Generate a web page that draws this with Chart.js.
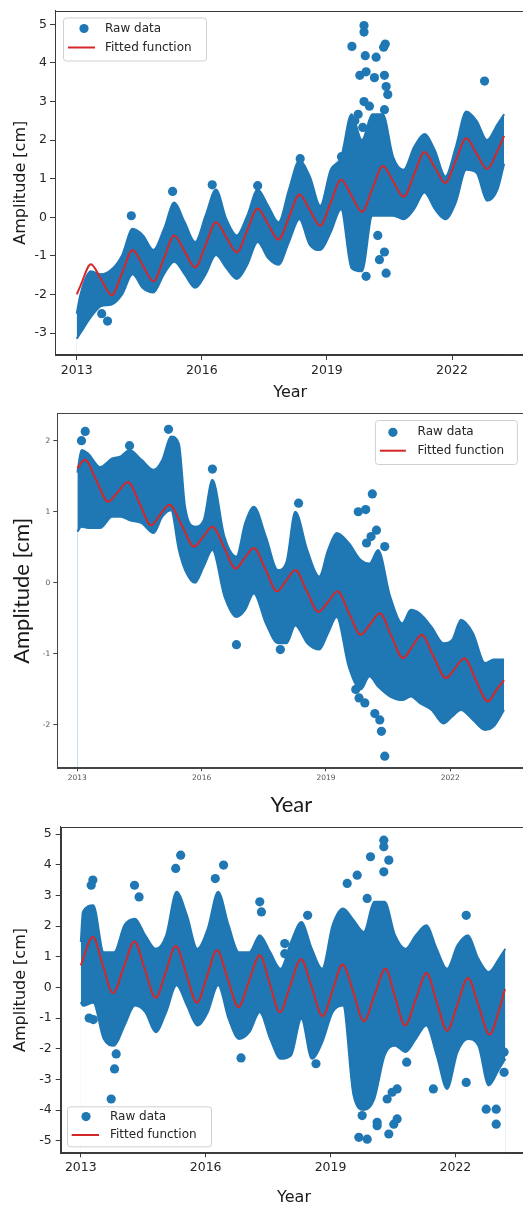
<!DOCTYPE html>
<html>
<head>
<meta charset="utf-8">
<script src="https://cdn.jsdelivr.net/npm/chart.js@4/dist/chart.umd.min.js"></script>
<style>
html,body{margin:0;padding:0;background:#fff;width:523px;height:1209px;overflow:hidden;position:relative}
.box{position:absolute;left:0}
canvas{display:block}
</style>
</head>
<body>
<div class="box" style="top:0px"><canvas id="c1" width="530" height="405"></canvas></div>
<div class="box" style="top:405px"><canvas id="c2" width="530" height="415"></canvas></div>
<div class="box" style="top:815px"><canvas id="c3" width="532" height="394"></canvas></div>
<script>
// ---------- shared ----------
const xTicks = [2013, 2016, 2019, 2022];
const seriesNames = ['Raw data', 'Fitted function'];

// ---------- chart 1 ----------
const yTicks1 = [-3, -2, -1, 0, 1, 2, 3, 4, 5];
const bandX1 = [2013.0, 2013.09, 2013.34, 2013.59, 2013.84, 2014.09, 2014.34, 2014.59, 2014.84, 2015.09, 2015.34, 2015.59, 2015.84, 2016.09, 2016.34, 2016.59, 2016.84, 2017.09, 2017.34, 2017.59, 2017.84, 2018.09, 2018.34, 2018.59, 2018.84, 2019.09, 2019.34, 2019.59, 2019.84, 2020.09, 2020.34, 2020.59, 2020.84, 2021.09, 2021.34, 2021.59, 2021.84, 2022.09, 2022.34, 2022.59, 2022.84, 2023.09, 2023.25];
const bandTop1 = [-2.5, -2.0, -1.4, -1.48, -1.35, -0.98, -0.3, -0.47, -0.85, -0.31, 0.38, -0.13, -0.64, 0.04, 0.72, -0.05, -0.47, 0.04, 0.72, 0.3, -0.13, 0.72, 1.47, 1.06, 0.3, 1.23, 1.56, 2.67, 2.0, 2.67, 2.67, 1.56, 1.23, 1.82, 2.16, 1.73, 1.06, 1.82, 2.74, 2.5, 2.0, 2.41, 2.67];
const bandLow1 = [-3.15, -3.0, -2.59, -2.3, -2.26, -2.0, -1.48, -1.84, -1.95, -1.48, -1.15, -1.48, -1.83, -1.48, -0.98, -1.32, -1.6, -1.23, -0.64, -1.06, -1.23, -0.64, -0.05, -0.72, -0.85, -0.39, 0.21, -1.32, -1.4, 0.04, 0.04, 0.04, -0.05, 0.21, 0.64, 0.21, -0.05, 0.38, 1.23, 1.15, 0.43, 0.72, 1.39];
const outX1 = [2013.6, 2013.74, 2014.31, 2015.3, 2016.25, 2017.34, 2018.36, 2019.35, 2019.60, 2019.89, 2019.89, 2019.92, 2020.18, 2020.40, 2020.36, 2019.79, 2019.94, 2020.14, 2020.38, 2020.42, 2020.46, 2019.89, 2020.02, 2020.38, 2019.67, 2019.75, 2019.86, 2019.94, 2020.22, 2020.38, 2020.42, 2019.94, 2020.26, 2022.78];
const outY1 = [-2.5, -2.69, 0.04, 0.67, 0.84, 0.82, 1.52, 1.57, 4.43, 4.97, 4.8, 4.19, 4.15, 4.49, 4.41, 3.68, 3.77, 3.62, 3.68, 3.39, 3.18, 3.0, 2.88, 2.79, 2.5, 2.67, 2.33, 1.73, -0.47, -0.9, -1.45, -1.53, -1.1, 3.53];
const fitX1 = [2013.0, 2013.09, 2013.34, 2013.59, 2013.84, 2014.09, 2014.34, 2014.59, 2014.84, 2015.09, 2015.34, 2015.59, 2015.84, 2016.09, 2016.34, 2016.59, 2016.84, 2017.09, 2017.34, 2017.59, 2017.84, 2018.09, 2018.34, 2018.59, 2018.84, 2019.09, 2019.34, 2019.59, 2019.84, 2020.09, 2020.34, 2020.59, 2020.84, 2021.09, 2021.34, 2021.59, 2021.84, 2022.09, 2022.34, 2022.59, 2022.84, 2023.09, 2023.25];
const fitY1 = [-2.0, -1.78, -1.22, -1.62, -2.02, -1.44, -0.85, -1.26, -1.66, -1.07, -0.47, -0.89, -1.3, -0.72, -0.13, -0.52, -0.91, -0.34, 0.23, -0.18, -0.58, 0.0, 0.59, 0.19, -0.22, 0.38, 0.97, 0.56, 0.14, 0.74, 1.33, 0.93, 0.53, 1.11, 1.69, 1.29, 0.89, 1.47, 2.05, 1.65, 1.25, 1.72, 2.11];

// ---------- chart 2 ----------
const yTicks2 = [-2, -1, 0, 1, 2];
const bandX2 = [2013.0, 2013.1, 2013.26, 2013.55, 2013.84, 2014.05, 2014.26, 2014.55, 2014.84, 2015.05, 2015.26, 2015.45, 2015.6, 2015.84, 2016.05, 2016.26, 2016.55, 2016.84, 2017.05, 2017.26, 2017.55, 2017.84, 2018.05, 2018.26, 2018.55, 2018.84, 2019.05, 2019.26, 2019.55, 2019.84, 2020.05, 2020.26, 2020.55, 2020.84, 2021.05, 2021.26, 2021.55, 2021.84, 2022.05, 2022.26, 2022.55, 2022.84, 2023.05, 2023.3];
const bandTop2 = [1.55, 1.87, 1.82, 1.63, 1.75, 1.78, 1.87, 1.73, 1.59, 1.73, 2.06, 1.96, 1.07, 0.79, 0.88, 1.45, 0.65, 0.37, 0.84, 1.07, 0.65, 0.18, 0.3, 1.0, 0.46, 0.09, 0.46, 0.7, 0.56, 0.32, 0.27, 0.46, -0.19, -0.57, -0.38, -0.43, -0.62, -0.85, -0.8, -0.52, -0.71, -1.13, -1.08, -1.08];
const bandLow2 = [0.72, 0.79, 0.77, 0.77, 0.93, 0.93, 0.88, 0.84, 0.7, 0.93, 1.02, 0.46, 0.18, 0.0, 0.23, 0.46, -0.19, -0.48, -0.38, -0.15, -0.57, -0.85, -0.85, -0.6, -0.85, -0.94, -0.71, -0.48, -1.18, -1.5, -1.32, -1.46, -1.6, -1.65, -1.6, -1.69, -1.79, -1.98, -1.88, -1.79, -1.93, -2.07, -2.02, -1.79];
const outX2 = [2013.1, 2013.19, 2014.26, 2015.2, 2016.26, 2016.84, 2017.9, 2018.34, 2019.78, 2019.96, 2020.12, 2020.42, 2020.34, 2020.3, 2020.18, 2019.72, 2019.8, 2019.94, 2020.09, 2020.22, 2019.98, 2020.42];
const outY2 = [2.0, 2.13, 1.93, 2.16, 1.6, -0.87, -0.94, 1.12, 1.0, 1.03, 1.25, -2.44, -2.09, -1.93, -1.84, -1.5, -1.62, -1.69, 0.65, 0.74, 0.56, 0.51];
const fitX2 = [2013.0, 2013.18, 2013.46, 2013.74, 2013.98, 2014.22, 2014.5, 2014.78, 2015.0, 2015.22, 2015.52, 2015.82, 2016.04, 2016.26, 2016.54, 2016.82, 2017.04, 2017.26, 2017.54, 2017.82, 2018.04, 2018.26, 2018.54, 2018.82, 2019.05, 2019.28, 2019.56, 2019.84, 2020.07, 2020.3, 2020.58, 2020.86, 2021.08, 2021.31, 2021.6, 2021.9, 2022.12, 2022.34, 2022.62, 2022.91, 2023.1, 2023.3];
const fitY2 = [1.61, 1.73, 1.44, 1.14, 1.28, 1.42, 1.12, 0.81, 0.96, 1.10, 0.81, 0.51, 0.65, 0.79, 0.5, 0.2, 0.35, 0.49, 0.19, -0.12, 0.03, 0.18, -0.12, -0.41, -0.27, -0.12, -0.43, -0.73, -0.58, -0.43, -0.75, -1.06, -0.9, -0.73, -1.04, -1.34, -1.2, -1.06, -1.37, -1.67, -1.52, -1.37];

// ---------- chart 3 ----------
const yTicks3 = [-5, -4, -3, -2, -1, 0, 1, 2, 3, 4, 5];
const bandX3 = [2013.0, 2013.05, 2013.3, 2013.55, 2013.8, 2014.05, 2014.3, 2014.55, 2014.8, 2015.05, 2015.3, 2015.55, 2015.8, 2016.05, 2016.3, 2016.55, 2016.8, 2017.05, 2017.3, 2017.55, 2017.8, 2018.05, 2018.3, 2018.55, 2018.8, 2019.05, 2019.3, 2019.55, 2019.8, 2020.05, 2020.3, 2020.55, 2020.8, 2021.05, 2021.3, 2021.55, 2021.8, 2022.05, 2022.3, 2022.55, 2022.8, 2023.05, 2023.2];
const bandTop3 = [1.48, 2.46, 2.68, 1.15, 1.15, 2.03, 2.24, 1.7, 1.26, 1.7, 3.12, 2.35, 1.26, 1.92, 3.12, 2.03, 1.15, 1.15, 1.7, 1.15, 0.61, 1.48, 2.13, 1.26, 0.61, 2.03, 2.57, 2.2, 1.81, 2.79, 2.79, 1.7, 1.26, 1.7, 2.03, 1.26, 0.61, 1.37, 1.7, 0.94, 0.5, 0.94, 1.26];
const bandLow3 = [-0.48, -0.6, -0.5, -1.68, -1.9, -1.24, -0.59, -0.81, -1.46, -0.81, 0.07, -0.59, -1.24, -0.81, 0.07, -1.02, -1.68, -1.46, -0.81, -1.68, -2.33, -2.22, -1.02, -2.33, -1.79, -0.81, -0.59, -3.5, -4.0, -3.64, -2.22, -1.9, -2.11, -1.68, -1.24, -2.22, -3.31, -2.11, -1.68, -1.9, -3.2, -2.66, -2.33];
const outX3 = [2013.73, 2013.81, 2013.85, 2013.29, 2013.25, 2014.29, 2014.4, 2015.4, 2015.28, 2016.23, 2016.43, 2017.3, 2017.34, 2017.9, 2017.9, 2018.45, 2018.65, 2019.4, 2019.64, 2019.88, 2019.96, 2020.28, 2020.28, 2020.4, 2020.28, 2019.68, 2019.88, 2019.76, 2020.12, 2020.4, 2020.52, 2020.6, 2020.83, 2021.47, 2022.26, 2022.74, 2022.98, 2022.98, 2023.17, 2023.17, 2022.26, 2013.2, 2013.3, 2016.85, 2020.36, 2020.48, 2020.12, 2020.6];
const outY3 = [-3.64, -2.66, -2.17, 3.5, 3.33, 3.33, 2.95, 4.31, 3.88, 3.55, 3.99, 2.79, 2.46, 1.43, 1.1, 2.35, -2.49, 3.39, 3.66, 2.9, 4.26, 4.8, 4.59, 4.15, 3.77, -4.89, -4.95, -4.18, -4.51, -4.78, -4.46, -3.31, -2.44, -3.31, -3.1, -3.97, -3.97, -4.46, -2.77, -2.11, 2.35, -1.0, -1.05, -2.3, -3.64, -3.42, -4.4, -4.29];
const fitX3 = [2013.0, 2013.29, 2013.53, 2013.77, 2014.03, 2014.29, 2014.54, 2014.8, 2015.04, 2015.28, 2015.54, 2015.79, 2016.03, 2016.27, 2016.53, 2016.79, 2017.04, 2017.3, 2017.54, 2017.78, 2018.03, 2018.29, 2018.55, 2018.81, 2019.05, 2019.29, 2019.55, 2019.8, 2020.06, 2020.32, 2020.55, 2020.79, 2021.05, 2021.31, 2021.55, 2021.8, 2022.05, 2022.3, 2022.56, 2022.82, 2023.06, 2023.19];
const fitY3 = [0.72, 1.64, 0.72, -0.19, 0.65, 1.5, 0.58, -0.34, 0.5, 1.35, 0.42, -0.5, 0.35, 1.21, 0.28, -0.64, 0.2, 1.05, 0.12, -0.81, 0.05, 0.92, -0.01, -0.94, -0.1, 0.75, -0.17, -1.1, -0.24, 0.61, -0.31, -1.24, -0.38, 0.47, -0.47, -1.41, -0.55, 0.31, -0.61, -1.54, -0.69, -0.05];

// ---------- rendering ----------
const BLUE = '#1f77b4';
const RED = '#d62728';

function pts(xs, ys) { return xs.map((x, i) => ({ x: x, y: ys[i] })); }

const framePlugin = {
  id: 'frame',
  afterDatasetsDraw(chart, args, o) {
    const { ctx, chartArea: a } = chart;
    ctx.save();
    ctx.strokeStyle = o.color || '#333';
    ctx.lineWidth = o.width || 1;
    const l = Math.round(a.left) + 0.5, t = Math.round(a.top) + 0.5;
    const r = Math.round(a.right) - 0.5, b = Math.round(a.bottom) - 0.5;
    ctx.strokeRect(l, t, r - l, b - t);
    ctx.restore();
  }
};

const legendPlugin = {
  id: 'innerLegend',
  afterDraw(chart, args, o) {
    const { ctx, chartArea: a } = chart;
    const x = o.anchor === 'tr' ? a.right - o.dx - o.w : a.left + o.dx;
    const y = o.anchor === 'bl' ? a.bottom - o.dy - o.h : a.top + o.dy;
    ctx.save();
    ctx.beginPath();
    if (ctx.roundRect) ctx.roundRect(x + 0.5, y + 0.5, o.w, o.h, 3); else ctx.rect(x + 0.5, y + 0.5, o.w, o.h);
    ctx.fillStyle = 'rgba(255,255,255,0.8)';
    ctx.fill();
    ctx.strokeStyle = '#d0d0d0';
    ctx.lineWidth = 1;
    ctx.stroke();
    const ds = chart.data.datasets;
    ctx.beginPath();
    ctx.arc(x + o.mx, y + o.y1, 4.6, 0, Math.PI * 2);
    ctx.fillStyle = BLUE;
    ctx.fill();
    ctx.beginPath();
    ctx.moveTo(x + o.l0, y + o.y2);
    ctx.lineTo(x + o.l1, y + o.y2);
    ctx.strokeStyle = RED;
    ctx.lineWidth = 2;
    ctx.stroke();
    ctx.fillStyle = '#262626';
    ctx.font = o.font;
    ctx.textBaseline = 'middle';
    ctx.textAlign = 'left';
    ctx.fillText(ds[1].label, x + o.tx, y + o.y1);
    ctx.fillText(ds[0].label, x + o.tx, y + o.y2);
    ctx.restore();
  }
};

function build(id, o) {
  const edge = { borderColor: BLUE, borderWidth: 2, pointRadius: 0, cubicInterpolationMode: 'monotone' };
  return new Chart(document.getElementById(id), {
    type: 'line',
    data: {
      datasets: [
        { label: seriesNames[1], data: pts(o.fitX, o.fitY), borderColor: RED, borderWidth: 2,
          pointRadius: 0, cubicInterpolationMode: 'monotone', fill: false },
        { label: seriesNames[0], data: pts(o.outX, o.outY), showLine: false, pointRadius: 4.6,
          pointBackgroundColor: BLUE, pointBorderWidth: 0, borderColor: BLUE, fill: false },
        // lower edge of the dense cloud: clears the area beneath it
        Object.assign({ label: seriesNames[0] + ' (lower edge)', data: pts(o.bandX, o.bandLow),
          backgroundColor: '#ffffff', fill: 'start' }, edge),
        // upper edge of the dense cloud: filled down to the axis first
        Object.assign({ label: seriesNames[0] + ' (upper edge)', data: pts(o.bandX, o.bandTop),
          backgroundColor: BLUE, fill: 'start' }, edge)
      ]
    },
    plugins: [framePlugin, legendPlugin],
    options: {
      responsive: false,
      animation: false,
      events: [],
      layout: { padding: { top: o.padTop, right: o.padRight, left: 0, bottom: 0 } },
      plugins: {
        legend: { display: false },
        tooltip: { enabled: false },
        frame: { color: o.frameColor, width: 1 },
        innerLegend: o.legend
      },
      scales: {
        x: {
          type: 'linear', min: o.xMin, max: o.xMax,
          afterFit: s => { s.height = o.xAxisH; },
          afterBuildTicks: s => { s.ticks = xTicks.map(v => ({ value: v })); },
          ticks: { callback: v => String(v), font: o.tickFont, color: o.tickColor,
                   padding: o.xTickPad, maxRotation: 0, autoSkip: false },
          grid: { drawOnChartArea: false, drawTicks: true, tickLength: o.xTickLen, color: o.frameColor },
          border: { display: true, color: o.frameColor, width: 1 },
          title: { display: true, text: 'Year', font: o.titleFont, color: '#1a1a1a',
                   padding: { top: 0, bottom: o.xTitlePad } }
        },
        y: {
          type: 'linear', min: o.yMin, max: o.yMax,
          afterFit: s => { s.width = o.yAxisW; },
          afterBuildTicks: s => { s.ticks = o.yTicks.map(v => ({ value: v })); },
          ticks: { callback: v => String(v), font: o.tickFont, color: o.tickColor,
                   padding: o.yTickPad, autoSkip: false },
          grid: { drawOnChartArea: false, drawTicks: true, tickLength: o.yTickLen, color: o.frameColor },
          border: { display: true, color: o.frameColor, width: 1 },
          title: { display: true, text: 'Amplitude [cm]', font: o.titleFont, color: '#1a1a1a',
                   padding: { top: o.yTitlePad, bottom: 0 } }
        }
      }
    }
  });
}

const dejaTick = { family: 'DejaVu Sans', size: 12.5 };
const dejaTitle = { family: 'DejaVu Sans', size: 16 };

build('c1', {
  bandX: bandX1, bandTop: bandTop1, bandLow: bandLow1, outX: outX1, outY: outY1, fitX: fitX1, fitY: fitY1,
  yTicks: yTicks1, xMin: 2012.48, xMax: 2023.76, yMin: -3.57, yMax: 5.36,
  padTop: 4, padRight: 1.2, xAxisH: 50, yAxisW: 55,
  xTickLen: 5, xTickPad: 3, yTickLen: 5, yTickPad: 3,
  tickFont: dejaTick, tickColor: '#262626', titleFont: dejaTitle,
  xTitlePad: 2.4, yTitlePad: 11, frameColor: '#3a3a3a',
  legend: { anchor: 'tl', dx: 8, dy: 7, w: 143, h: 43, mx: 21, y1: 11, y2: 30, l0: 5, l1: 32, tx: 42,
            font: '12px "DejaVu Sans"' }
});

build('c2', {
  bandX: bandX2, bandTop: bandTop2, bandLow: bandLow2, outX: outX2, outY: outY2, fitX: fitX2, fitY: fitY2,
  yTicks: yTicks2, xMin: 2012.516, xMax: 2023.815, yMin: -2.61, yMax: 2.385,
  padTop: 8.3, padRight: 1.5, xAxisH: 51.7, yAxisW: 57.3,
  xTickLen: 3, xTickPad: 2, yTickLen: 4, yTickPad: 3,
  tickFont: { family: 'DejaVu Sans', size: 7.5 }, tickColor: '#555555',
  titleFont: { family: 'Lato', size: 22 },
  xTitlePad: 1.8, yTitlePad: 8.5, frameColor: '#444444',
  legend: { anchor: 'tr', dx: 8.5, dy: 6.7, w: 142, h: 44, mx: 18, y1: 12.3, y2: 30.7, l0: 5, l1: 31, tx: 42.7,
            font: '12px "DejaVu Sans"' }
});

build('c3', {
  bandX: bandX3, bandTop: bandTop3, bandLow: bandLow3, outX: outX3, outY: outY3, fitX: fitX3, fitY: fitY3,
  yTicks: yTicks3, xMin: 2012.517, xMax: 2023.73, yMin: -5.41, yMax: 5.24,
  padTop: 11.7, padRight: 1.2, xAxisH: 55.7, yAxisW: 60.7,
  xTickLen: 4, xTickPad: 3, yTickLen: 5, yTickPad: 4,
  tickFont: dejaTick, tickColor: '#262626', titleFont: dejaTitle,
  xTitlePad: 1.1, yTitlePad: 11, frameColor: '#3a3a3a',
  legend: { anchor: 'bl', dx: 6.3, dy: 7, w: 144, h: 40, mx: 19, y1: 10.3, y2: 28.7, l0: 4.7, l1: 32, tx: 43,
            font: '12px "DejaVu Sans"' }
});
</script>
</body>
</html>
